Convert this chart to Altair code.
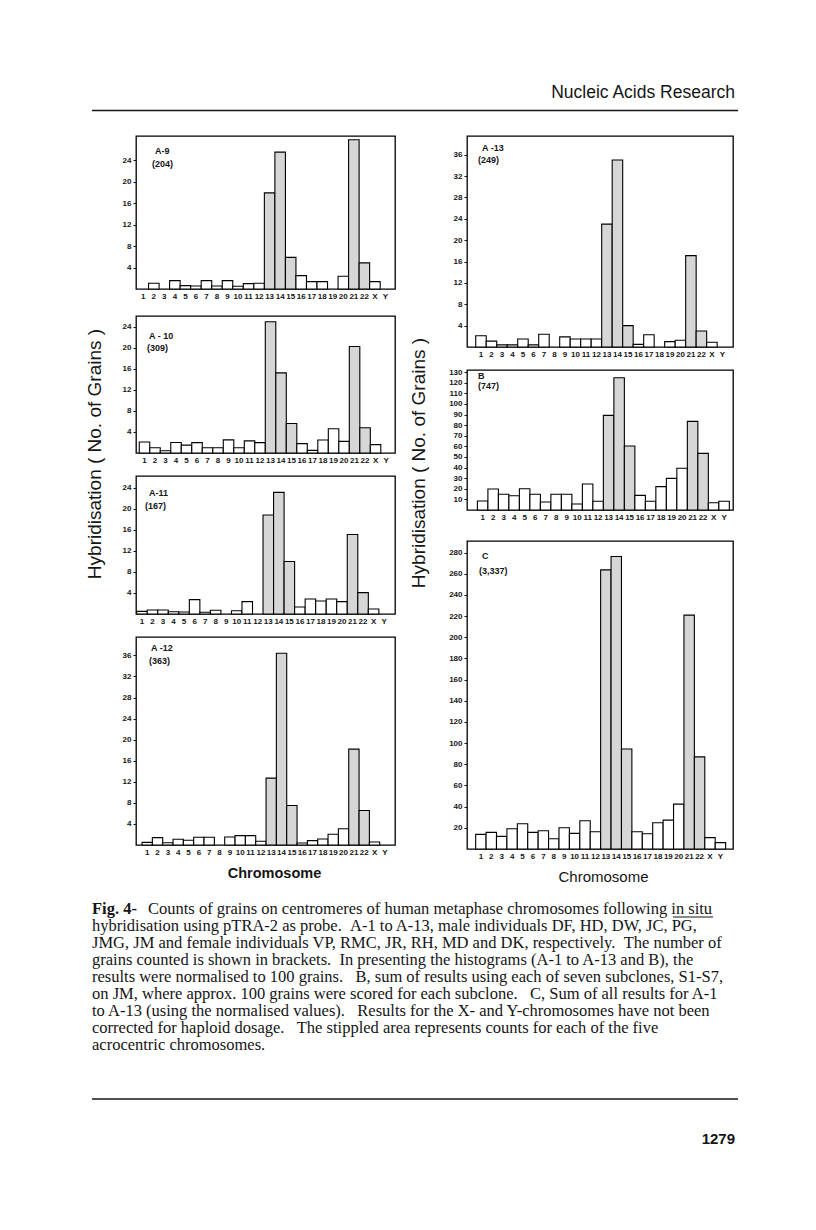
import re
import altair as alt
import pandas as pd

chromosomes = [str(i) for i in range(1, 23)] + ["X", "Y"]
acrocentric = ["13", "14", "15", "21", "22"]

a9_values = [0, 1.06, 0, 1.56, 0.62, 0.56, 1.56, 0.56, 1.56, 0.5, 1.0, 1.06,
             17.9, 25.5, 5.9, 2.5, 1.37, 1.37, 0, 2.37, 27.8, 4.86, 1.37, 0]
a10_values = [2.09, 1.0, 0.44, 2.0, 1.5, 1.96, 1.0, 1.0, 2.5, 1.0, 2.3, 1.96,
              24.9, 15.2, 5.6, 1.77, 0.5, 2.47, 4.6, 2.2, 20.2, 4.8, 1.58, 0]
a11_values = [0.5, 0.76, 0.76, 0.44, 0.38, 2.73, 0.32, 0.7, 0, 0.63, 2.35, 0,
              18.8, 23.1, 9.97, 1.33, 2.86, 2.48, 2.86, 2.35, 15.1, 4.06, 0.95, 0]
a12_values = [0.5, 1.4, 0.44, 1.08, 0.89, 1.46, 1.46, 0, 1.52, 1.78, 1.78, 0.7,
              12.7, 36.4, 7.5, 0.38, 0.83, 1.14, 2.03, 3.1, 18.2, 6.54, 0.57, 0]
a13_values = [2.1, 1.1, 0.4, 0.4, 1.5, 0.4, 2.4, 0, 1.9, 1.5, 1.5, 1.5,
              23, 35, 4, 0.5, 2.3, 0, 1.0, 1.25, 17.1, 3, 0.9, 0]
b_values = [8.5, 19.8, 14.8, 13.5, 20.1, 14.8, 7.5, 14.8, 14.8, 5.7, 24.5, 8.2,
            89.2, 124.7, 60.3, 13.8, 8.2, 22, 29.8, 39.3, 83.6, 53.4, 6.9, 8.2]
c_values = [13.8, 15.7, 11.9, 19.2, 23.9, 15.7, 17.3, 9.7, 20.1, 14.8, 26.7, 16.3,
            263.7, 276.3, 94.5, 16.3, 14.4, 24.8, 27.3, 42.4, 221, 87, 10.7, 6]

ticks_small = [4, 8, 12, 16, 20, 24]
ticks_mid = [4, 8, 12, 16, 20, 24, 28, 32, 36]
ticks_b = [10, 20, 30, 40, 50, 60, 70, 80, 90, 100, 110, 120, 130]
ticks_c = [20, 40, 60, 80, 100, 120, 140, 160, 180, 200, 220, 240, 260, 280]

header_text = "Nucleic Acids Research"
axis_title_text = "Hybridisation ( No. of Grains )"
caption_bold = "Fig. 4-"
caption_first = "Counts of grains on centromeres of human metaphase chromosomes following in situ"
caption_rest = [
    "hybridisation using pTRA-2 as probe.  A-1 to A-13, male individuals DF, HD, DW, JC, PG,",
    "JMG, JM and female individuals VP, RMC, JR, RH, MD and DK, respectively.  The number of",
    "grains counted is shown in brackets.  In presenting the histograms (A-1 to A-13 and B), the",
    "results were normalised to 100 grains.   B, sum of results using each of seven subclones, S1-S7,",
    "on JM, where approx. 100 grains were scored for each subclone.   C, Sum of all results for A-1",
    "to A-13 (using the normalised values).   Results for the X- and Y-chromosomes have not been",
    "corrected for haploid dosage.   The stippled area represents counts for each of the five",
    "acrocentric chromosomes.",
]
page_number = "1279"

SANS = "Liberation Sans"
SERIF = "Liberation Serif"
INK = "#151515"
STIPPLE = "#d6d6d6"
NOVIEW = alt.ViewBackground(stroke="transparent")


def keep_spaces(s):
    return re.sub(r" {2,}", lambda m: " " + "\u00a0" * (len(m.group()) - 1), s)


def text_layer(txt, x, y, size, weight="normal", align="left", angle=0,
               font=SANS, baseline="middle", line_height=None):
    kw = dict(align=align, baseline=baseline, fontSize=size, fontWeight=weight,
              font=font, angle=angle, color=INK)
    if line_height is not None:
        kw["lineBreak"] = "\n"
        kw["lineHeight"] = line_height
    return alt.Chart(pd.DataFrame({"t": [txt]})).mark_text(**kw).encode(
        text="t:N", x=alt.value(x), y=alt.value(y))


def rule_layer(x1, x2, y, width=1.5):
    return alt.Chart(pd.DataFrame({"a": [0]})).mark_rule(
        color=INK, strokeWidth=width).encode(
        x=alt.value(x1), x2=alt.value(x2), y=alt.value(y))


def spacer(h):
    return alt.Chart(pd.DataFrame({"a": [0]})).mark_point(opacity=0).encode(
        x=alt.value(0), y=alt.value(0)).properties(width=1, height=h, view=NOVIEW)


def panel(values, name, count, top, ticks, width, height, pad, align,
          name_xy, count_xy, title=None, title_x=0, title_y=0,
          title_weight="bold", title_size=15):
    df = pd.DataFrame({
        "chrom": chromosomes,
        "value": values,
        "kind": ["acro" if c in acrocentric else "other" for c in chromosomes],
    })
    xkw = dict(labelAngle=0, labelOverlap=False, ticks=False, domain=False,
               labelPadding=3, labelFontSize=8, labelFontWeight="bold",
               labelFont=SANS, labelColor=INK)
    if title:
        xaxis = alt.Axis(title=title, titleFontSize=title_size, titleFont=SANS,
                         titleFontWeight=title_weight, titleX=title_x,
                         titleY=title_y, titleBaseline="middle",
                         titleAlign="center", titleColor=INK, **xkw)
    else:
        xaxis = alt.Axis(title=None, **xkw)
    bars = alt.Chart(df).transform_filter("datum.value > 0").mark_bar(
        stroke="black", strokeWidth=1.1).encode(
        x=alt.X("chrom:N", sort=chromosomes,
                scale=alt.Scale(domain=chromosomes, paddingInner=0,
                                paddingOuter=pad, align=align),
                axis=xaxis),
        y=alt.Y("value:Q", scale=alt.Scale(domain=[0, top], nice=False),
                axis=alt.Axis(values=ticks, title=None, grid=False,
                              domain=False, tickSize=3, tickColor=INK,
                              labelPadding=2, labelFontSize=8,
                              labelFontWeight="bold", labelFont=SANS,
                              labelColor=INK)),
        fill=alt.Fill("kind:N",
                      scale=alt.Scale(domain=["other", "acro"],
                                      range=["white", STIPPLE]),
                      legend=None),
    )
    return alt.layer(
        bars,
        text_layer(name, name_xy[0], name_xy[1], 9, "bold"),
        text_layer(count, count_xy[0], count_xy[1], 9, "bold"),
    ).properties(width=width, height=height)


LW, RW = 259, 266

p_a9 = panel(a9_values, "A-9", "(204)", 28.5, ticks_small, LW, 153, 0.30, 0.32, (19, 15), (16, 28))
p_a10 = panel(a10_values, "A - 10", "(309)", 26, ticks_small, LW, 137, 0.33, 0.47, (13, 20), (11, 32))
p_a11 = panel(a11_values, "A-11", "(167)", 26.2, ticks_small, LW, 138, 0.30, 0.11, (13, 17), (9, 30))
p_a12 = panel(a12_values, "A -12", "(363)", 39.5, ticks_mid, LW, 208, 0.53, 0.55, (15, 11), (13, 24),
              title="Chromosome", title_x=138, title_y=28, title_weight="bold", title_size=14.5)
p_a13 = panel(a13_values, "A -13", "(249)", 39.5, ticks_mid, RW, 211, 0.67, 0.62, (15, 12), (11, 24))
p_b = panel(b_values, "B", "(747)", 132, ticks_b, RW, 140, 0.67, 0.74, (11, 6), (11, 16))
p_c = panel(c_values, "C", "(3,337)", 291, ticks_c, RW, 308, 0.77, 0.54, (15, 15), (12, 30),
            title="Chromosome", title_x=136, title_y=27, title_weight="normal", title_size=15)

left_col = alt.vconcat(p_a9, spacer(27), p_a10, spacer(23), p_a11, spacer(23), p_a12,
                       spacing=0, bounds="flush")
right_col = alt.vconcat(p_a13, spacer(23), p_b, spacer(31), p_c,
                        spacing=0, bounds="flush")

left_title = text_layer(axis_title_text, 86, 318, 19, align="center", angle=270).properties(
    width=111, height=700, view=NOVIEW)
mid_title = text_layer(axis_title_text, 22, 327, 19, align="center", angle=270).properties(
    width=50, height=700, view=NOVIEW)

body = alt.hconcat(left_title, left_col, mid_title, right_col, spacing=0)

header = alt.layer(
    text_layer(header_text, 726, 83.5, 17.5, align="right"),
    rule_layer(83, 729, 101.5, 1.6),
).properties(width=735, height=125, view=NOVIEW)

caption = alt.layer(
    text_layer(caption_bold, 83, 14.5, 16.5, "bold", font=SERIF, baseline="top"),
    text_layer(caption_first, 139, 14.5, 16.5, font=SERIF, baseline="top"),
    text_layer("\n".join(keep_spaces(s) for s in caption_rest), 83, 31.6, 16.5,
               font=SERIF, baseline="top", line_height=17.1),
    rule_layer(664, 704, 31, 1.0),
    rule_layer(83, 729, 213, 1.6),
    text_layer(page_number, 726, 253, 15, "bold", align="right"),
).properties(width=735, height=280, view=NOVIEW)

chart = alt.vconcat(header, body, caption, spacing=0).properties(
    padding=0, background="white"
).configure_view(stroke="black", strokeWidth=1.3)

chart.save("out.html", embed_options={"renderer": "svg", "actions": False})
